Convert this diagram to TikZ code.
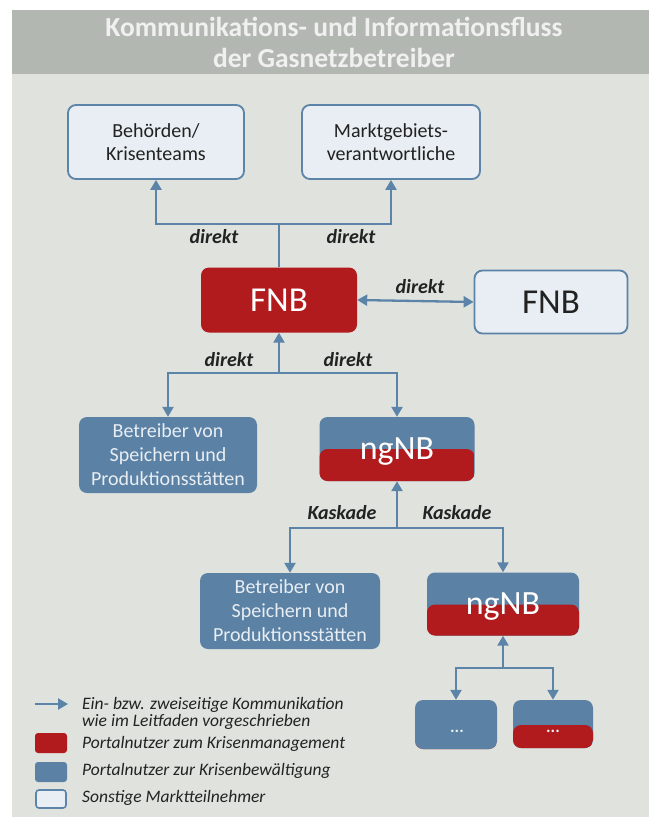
\documentclass[tikz,border=0pt]{standalone}
\usepackage{fontspec}
\setmainfont{Carlito}
\usetikzlibrary{arrows.meta}
\definecolor{bg}{HTML}{DFE2DD}
\definecolor{band}{HTML}{B3B7B1}
\definecolor{rd}{HTML}{B11B1E}
\definecolor{bl}{HTML}{5B81A5}
\definecolor{lt}{HTML}{E8EEF3}
\definecolor{ln}{HTML}{5C83A8}
\definecolor{tx}{HTML}{222222}
\begin{document}
\begin{tikzpicture}[x=1pt,y=-1pt,
  conn/.style={draw=ln, line width=2.3pt},
  arr/.style={conn, -{Triangle[length=10pt,width=11pt]}},
  darr/.style={conn, {Triangle[length=10pt,width=11pt]}-{Triangle[length=10pt,width=11pt]}},
  lightbox/.style={draw=ln, line width=1.8pt, fill=lt, rounded corners=8pt, align=center, text=tx, inner sep=0pt, font=\fontsize{20}{23}\selectfont},
  bluebox/.style={fill=bl, rounded corners=8pt, align=center, text=lt, inner sep=0pt, font=\fontsize{20}{24}\selectfont},
  redbox/.style={fill=rd, rounded corners=8pt, text=white, inner sep=0pt, font=\fontsize{35}{38}\selectfont},
  splitbox/.style={fill=bl, rounded corners=8pt, text=white, inner sep=0pt,
    path picture={\fill[rd] ([yshift=#1]path picture bounding box.south west) rectangle (path picture bounding box.south east);}},
  lbl/.style={font=\bfseries\itshape\fontsize{20}{22}\selectfont, text=tx},
  legtext/.style={font=\itshape\fontsize{17.5}{17}\selectfont, text=tx, align=left, anchor=west, inner sep=0pt},
  title/.style={font=\bfseries\fontsize{27.5}{31}\selectfont, text=white!94!black, align=center}
]
\useasboundingbox (0,0) rectangle (649,817);
\fill[white] (0,0) rectangle (649,817);
\fill[bg] (12,74) rectangle (649,817);
\fill[band] (12,10) rectangle (649,74);

\node[title] (title) at (334,42) {Kommunikations- und Informationsfluss\\der Gasnetzbetreiber};

% nodes
\node[lightbox, minimum width=176pt, minimum height=74pt] (beh) at (156,142) {Behörden/\\Krisenteams};
\node[lightbox, minimum width=178pt, minimum height=74pt] (mgv) at (391,142) {Marktgebiets-\\verantwortliche};
\node[redbox, minimum width=156pt, minimum height=65pt] (fnb) at (279,300) {FNB};
\node[lightbox, minimum width=153pt, minimum height=63pt, font=\fontsize{35}{38}\selectfont] (fnb2) at (551,302) {FNB};
\node[bluebox, minimum width=178pt, minimum height=76pt] (bet1) at (168,455) {Betreiber von\\Speichern und\\Produktionsstätten};
\node[splitbox=32pt, minimum width=155pt, minimum height=64pt, text depth=0pt, font=\fontsize{34}{36}\selectfont] (ng1) at (397,449) {ngNB};
\node[bluebox, minimum width=180pt, minimum height=76pt] (bet2) at (290,611) {Betreiber von\\Speichern und\\Produktionsstätten};
\node[splitbox=31pt, minimum width=152pt, minimum height=63pt, text depth=0pt, font=\fontsize{34}{36}\selectfont] (ng2) at (503,604) {ngNB};
\node[splitbox=0pt, minimum width=82pt, minimum height=49pt] (s1) at (456,724.5) {};
\node[splitbox=23pt, minimum width=80pt, minimum height=48pt] (s2) at (553,724) {};
\node[text=lt, font=\bfseries\fontsize{17}{17}\selectfont] (d1) at (457,731) {...};
\node[text=lt, font=\bfseries\fontsize{17}{17}\selectfont] (d2) at (553,731) {...};

% connectors top
\coordinate (j1) at (fnb.north |- 0,224);
\draw[conn] (fnb.north) -- (j1);
\draw[arr] (j1) -| (beh.south);
\draw[arr] (j1) -| (mgv.south);
\node[lbl] (l1) at (214,237) {direkt};
\node[lbl] (l2) at (351,237) {direkt};

% side
\draw[darr] (fnb.east) -- (fnb2.west);
\node[lbl] (l3) at (420,287) {direkt};

% middle
\coordinate (j2) at (fnb.south |- 0,373);
\draw[arr] (j2) -- (fnb.south);
\draw[arr] (j2) -| (bet1.north);
\draw[arr] (j2) -| (ng1.north);
\node[lbl] (l4) at (229,360) {direkt};
\node[lbl] (l5) at (348,360) {direkt};

% lower
\coordinate (j3) at (ng1.south |- 0,528);
\draw[arr] (j3) -- (ng1.south);
\draw[arr] (j3) -| (bet2.north);
\draw[arr] (j3) -| (ng2.north);
\node[lbl] (l6) at (342,513) {Kaskade};
\node[lbl] (l7) at (457,513) {Kaskade};

% bottom
\coordinate (j4) at (ng2.south |- 0,668);
\draw[arr] (j4) -- (ng2.south);
\draw[arr] (j4) -| (s1.north);
\draw[arr] (j4) -| (s2.north);

% legend
\coordinate (la1) at (35,704);
\coordinate (la2) at (68,704);
\draw[arr] (la1) -- (la2);
\node[legtext] (t1) at (82,713) {Ein- bzw. zweiseitige Kommunikation\\wie im Leitfaden vorgeschrieben};
\node[fill=rd, rounded corners=3pt, minimum width=32pt, minimum height=20pt, inner sep=0pt] (k1) at (51,743) {};
\node[legtext] (t2) at (82,744) {Portalnutzer zum Krisenmanagement};
\node[fill=bl, rounded corners=3pt, minimum width=32pt, minimum height=20pt, inner sep=0pt] (k2) at (51,772) {};
\node[legtext] (t3) at (82,771) {Portalnutzer zur Krisenbewältigung};
\node[fill=lt, draw=ln, line width=1.6pt, rounded corners=3pt, minimum width=30pt, minimum height=18pt, inner sep=0pt] (k3) at (51,799) {};
\node[legtext] (t4) at (82,798) {Sonstige Marktteilnehmer};
\end{tikzpicture}
\end{document}
